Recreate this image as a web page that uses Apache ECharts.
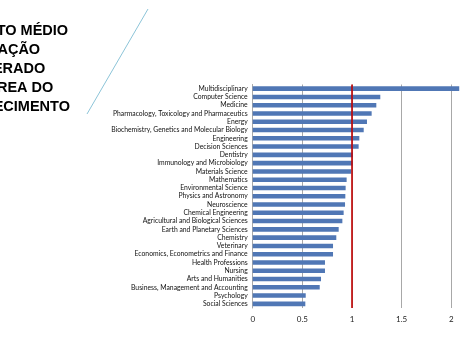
<!DOCTYPE html>
<html>
<head>
<meta charset="utf-8">
<script src="https://cdn.jsdelivr.net/npm/echarts@6/dist/echarts.min.js"></script>
<style>html,body{margin:0;padding:0;background:#fff;}#c{width:463px;height:348px;}</style>
</head>
<body>
<div id="c"></div>
<script>
const categories = [
  "Multidisciplinary","Computer Science","Medicine","Pharmacology, Toxicology and Pharmaceutics","Energy",
  "Biochemistry, Genetics and Molecular Biology","Engineering","Decision Sciences","Dentistry",
  "Immunology and Microbiology","Materials Science","Mathematics","Environmental Science",
  "Physics and Astronomy","Neuroscience","Chemical Engineering","Agricultural and Biological Sciences",
  "Earth and Planetary Sciences","Chemistry","Veterinary","Economics, Econometrics and Finance",
  "Health Professions","Nursing","Arts and Humanities","Business, Management and Accounting",
  "Psychology","Social Sciences"
];
const values = [2.08,1.285,1.245,1.198,1.151,1.118,1.074,1.067,1.01,1.007,0.993,0.946,0.936,0.933,0.93,0.916,0.903,0.866,0.842,0.809,0.809,0.728,0.728,0.688,0.675,0.534,0.53];
const referenceValue = 1;
const titleLines = ["IMPACTO MÉDIO","DE CITAÇÃO","PONDERADO","POR ÁREA DO","CONHECIMENTO"];

const chart = echarts.init(document.getElementById('c'), null, {renderer:'canvas'});
const graphics = titleLines.map((t,i)=>({
  type:'text', left:-49, top:23 + i*19.2,
  style:{text:t, font:'bold 14.5px "Liberation Sans", Arial, sans-serif', fill:'#000'}
}));
graphics.push({type:'line', shape:{x1:87,y1:114,x2:148,y2:9}, style:{stroke:'#8cc4d8', lineWidth:1}});
chart.setOption({
  animation:false,
  graphic: graphics,
  grid:{left:252.7, top:84.5, bottom:40, right:0},
  xAxis:{type:'value', min:0, max:2.118, interval:0.5,
    axisLine:{show:false}, axisTick:{show:false},
    axisLabel:{color:'#222', fontSize:8, fontFamily:'Lato, sans-serif', margin:7, showMaxLabel:false},
    splitLine:{show:true, lineStyle:{color:'#a8a8a8', width:1}}},
  yAxis:{type:'category', data:categories, inverse:true,
    axisLine:{show:true, lineStyle:{color:'#a8a8a8'}}, axisTick:{show:false},
    axisLabel:{color:'#111', fontSize:6.8, fontFamily:'Lato, sans-serif', margin:5, interval:0}},
  series:[{type:'bar', data:values, barWidth:'55%', itemStyle:{color:'#5077b5'},
    markLine:{silent:true, symbol:'none', label:{show:false},
      lineStyle:{color:'#c00000', width:1.6, type:'solid'},
      data:[{xAxis:referenceValue}]}}]
});
</script>
</body>
</html>
